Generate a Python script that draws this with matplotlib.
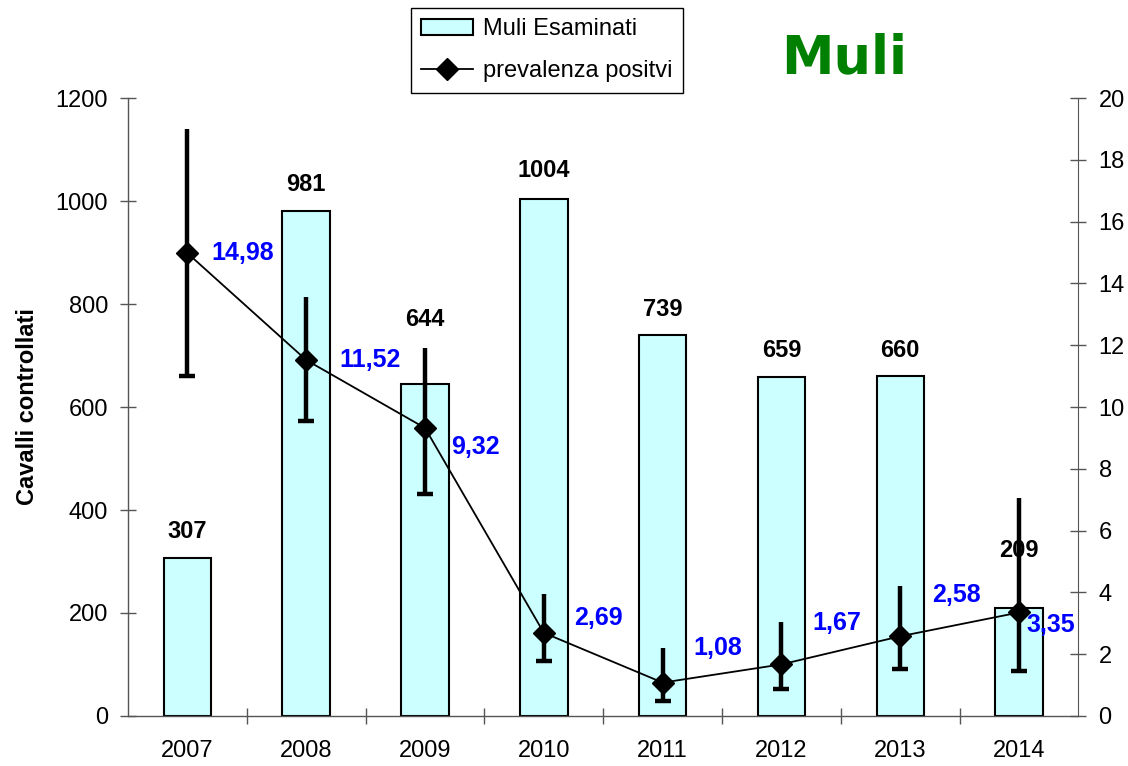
import matplotlib
matplotlib.use("Agg")
import matplotlib.pyplot as plt
import numpy as np

plt.rcParams['font.family'] = ['Liberation Sans', 'DejaVu Sans']

years = ["2007", "2008", "2009", "2010", "2011", "2012", "2013", "2014"]
esaminati = [307, 981, 644, 1004, 739, 659, 660, 209]
prevalenza = [14.98, 11.52, 9.32, 2.69, 1.08, 1.67, 2.58, 3.35]
prev_labels = ["14,98", "11,52", "9,32", "2,69", "1,08", "1,67", "2,58", "3,35"]
ci_upper = [19.0, 13.55, 11.9, 3.95, 2.2, 3.05, 4.2, 7.05]
ci_lower = [11.0, 9.55, 7.2, 1.78, 0.5, 0.87, 1.52, 1.46]

# label offsets (points) for prevalence labels and bar labels
lbl_off = [(17, 0), (24, 0), (19, -14), (22, 11), (22, 25), (22, 30), (23, 30), (5, -9)]
bar_lbl_off = [14, 14, 42, 16, 14, 14, 14, 37]

fig = plt.figure(figsize=(11.28, 7.66), dpi=100)
ax = fig.add_axes([0.1135, 0.0653, 0.8426, 0.8067])
x = np.arange(len(years))

bars = ax.bar(x, esaminati, width=0.40, color='#CCFFFF', edgecolor='black', linewidth=1.5,
              label='Muli Esaminati', zorder=2)
for xi, v, dy in zip(x, esaminati, bar_lbl_off):
    ax.annotate(str(v), (xi, v), xytext=(0, dy), textcoords='offset points',
                ha='center', va='baseline', fontsize=17, fontweight='bold', color='black',
                zorder=6, annotation_clip=False)

ax.set_xlim(-0.5, len(years) - 0.5)
ax.set_ylim(0, 1200)
ax.set_yticks(range(0, 1201, 200))
ax.set_xticks(x)
ax.set_xticklabels(years, fontsize=17)
ax.set_xticks(np.arange(0.5, len(years) - 1, 1), minor=True)
ax.tick_params(axis='x', which='major', length=0, pad=17)
ax.tick_params(axis='x', which='minor', direction='inout', length=11, width=1, color='#555555')
ax.tick_params(axis='y', labelsize=17, direction='inout', length=11, width=1, color='#555555', pad=9)
ax.set_ylabel('Cavalli controllati', fontsize=17, fontweight='bold', labelpad=12)
for s in ['top', 'right']:
    ax.spines[s].set_visible(False)
for s in ['left', 'bottom']:
    ax.spines[s].set_color('#555555')
    ax.spines[s].set_linewidth(1)

ax2 = ax.twinx()
ax2.set_ylim(0, 20)
ax2.set_yticks(range(0, 21, 2))
ax2.tick_params(axis='y', labelsize=17, direction='inout', length=11, width=1, color='#555555', pad=9)
for s in ['top', 'left', 'bottom']:
    ax2.spines[s].set_visible(False)
ax2.spines['right'].set_color('#555555')

prev = np.array(prevalenza)
up = np.array(ci_upper)
lo = np.array(ci_lower)
ax2.vlines(x, lo, up, color='black', linewidth=3.2, zorder=3)
ax2.plot(x, lo, linestyle='none', marker='_', markersize=12, markeredgewidth=3.2, color='black', zorder=3)
line, = ax2.plot(x, prev, color='black', linewidth=1.3, marker='D', markersize=11,
                 markerfacecolor='black', markeredgecolor='black', label='prevalenza positvi', zorder=4)
for xi, v, t, off in zip(x, prev, prev_labels, lbl_off):
    ax2.annotate(t, (xi, v), xytext=off, textcoords='offset points', ha='left', va='center',
                 fontsize=18, fontweight='bold', color='#0000FF', zorder=5)

leg = fig.legend([bars, line], ['Muli Esaminati', 'prevalenza positvi'],
                 loc='upper left', bbox_to_anchor=(0.364, 0.99), fontsize=17,
                 frameon=True, fancybox=False, edgecolor='black', framealpha=1,
                 handlelength=2.2, borderpad=0.45, labelspacing=0.85, handletextpad=0.4,
                 borderaxespad=0)
leg.get_frame().set_linewidth(1)

fig.text(0.748, 0.9047, 'Muli', fontsize=38, fontweight='bold', color='#008000',
         ha='center', va='baseline', family='DejaVu Sans')

fig.savefig('out.png', dpi=100)
